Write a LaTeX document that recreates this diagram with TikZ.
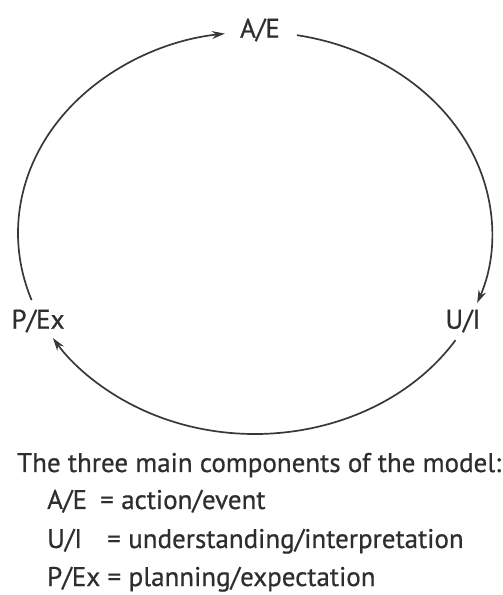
\documentclass[tikz,border=0pt]{standalone}
\usepackage{fontspec}
\setmainfont{PT Sans}[FakeBold=0.6]
\usetikzlibrary{arrows.meta,calc}
\definecolor{ink}{HTML}{2E2E2E}
\definecolor{linegray}{HTML}{383838}
\tikzset{
  lbl/.style={inner sep=0pt, text=ink, font=\fontsize{27}{32}\selectfont},
  txt/.style={lbl, anchor=base west},
  cyc/.style={draw=linegray, line width=1.7pt, -{Stealth[length=13pt,width=8pt]}}
}
\begin{document}
\begin{tikzpicture}[x=1pt,y=1pt]
\useasboundingbox (0,0) rectangle (503,595);
\coordinate (c) at (255,362);
% labels on the cycle
\node[lbl] (ae) at (260,565) {A/E};
\node[lbl] (pex) at (38,274) {P/Ex};
\node[lbl] (ui) at (463,274) {U/I};
% arc end points
\coordinate (pexout) at ([shift={(199.5:237pt and 201pt)}]c);
\coordinate (aeout) at ([shift={(79.8:237pt and 201pt)}]c);
\coordinate (uiout) at ([shift={(-32.2:237pt and 201pt)}]c);
% arcs
\draw[cyc] (pexout) arc[start angle=199.5, end angle=97.3, x radius=237pt, y radius=201pt];
\draw[cyc] (aeout) arc[start angle=79.8, end angle=-20.4, x radius=237pt, y radius=201pt];
\draw[cyc] (uiout) arc[start angle=-32.2, end angle=-148.5, x radius=237pt, y radius=201pt];
% legend
\node[txt] (title) at (17,123) {The three main components of the model:};
\node[txt] (k1) at (47,86) {A/E};
\node[txt] (e1) at (100,86) {=};
\node[txt, anchor=base west] (d1) at ($(e1.base east)+(7,0)$) {action/event};
\node[txt] (k2) at (47,47) {U/I};
\node[txt] (e2) at (107,47) {=};
\node[txt, anchor=base west] (d2) at ($(e2.base east)+(7,0)$) {understanding/interpretation};
\node[txt] (k3) at (47,9) {P/Ex};
\node[txt, anchor=base west] (e3) at ($(k3.base east)+(7,0)$) {=};
\node[txt, anchor=base west] (d3) at ($(e3.base east)+(7,0)$) {planning/expectation};
\end{tikzpicture}
\end{document}
